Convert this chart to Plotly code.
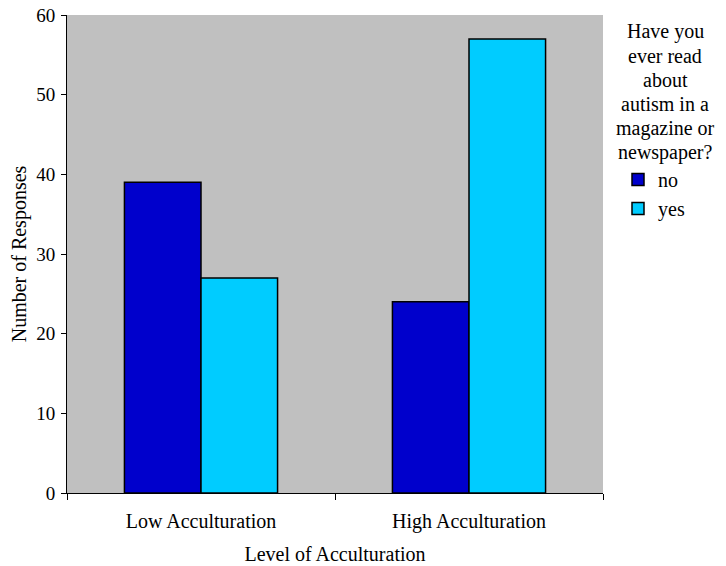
import plotly.graph_objects as go

categories = ["Low Acculturation", "High Acculturation"]
no_values = [39, 24]
yes_values = [27, 57]
series_names = ["no", "yes"]
legend_title_lines = ["Have you", "ever read", "about", "autism in a", "magazine or", "newspaper?"]

FONT = "Liberation Serif, Times New Roman, serif"
# browser body has an 8px margin, so figure coords = screen coords - 8
OFF = 8
PL, PT, PW, PH = 67 - OFF, 15 - OFF, 536, 478


def px(xs):
    return (xs - 67) / PW


def py(ys):
    return (15 + PH - ys) / PH


fig = go.Figure()
fig.add_trace(go.Bar(x=categories, y=no_values, name=series_names[0],
                     marker=dict(color="#0000CC", line=dict(color="black", width=1.5))))
fig.add_trace(go.Bar(x=categories, y=yes_values, name=series_names[1],
                     marker=dict(color="#00CCFF", line=dict(color="black", width=1.5))))

annotations = []
for i, line in enumerate(legend_title_lines):
    yc = 32 + 24 * i
    annotations.append(dict(text=line, xref="paper", yref="paper",
                            x=px(665), y=py(yc),
                            xanchor="center", yanchor="middle", showarrow=False,
                            font=dict(family=FONT, size=20, color="black")))

fig.update_layout(
    width=726, height=566,
    margin=dict(l=PL, r=726 - PL - PW, t=PT, b=566 - PT - PH),
    paper_bgcolor="white",
    plot_bgcolor="#C0C0C0",
    barmode="group",
    bargap=0.4286,
    bargroupgap=0,
    font=dict(family=FONT, size=20, color="black"),
    showlegend=True,
    legend=dict(x=px(618), y=py(160),
                xanchor="left", yanchor="top",
                font=dict(family=FONT, size=20), bgcolor="rgba(0,0,0,0)",
                tracegroupgap=0, traceorder="normal"),
    annotations=annotations,
)
fig.update_xaxes(
    automargin=False,
    showline=True, linecolor="black", linewidth=1,
    ticks="outside", ticklen=6, tickcolor="black", tickson="boundaries",
    ticklabelstandoff=10, ticklabeloverflow="allow",
    showgrid=False, zeroline=False,
    tickfont=dict(family=FONT, size=20),
    title=dict(text="Level of Acculturation", font=dict(family=FONT, size=20), standoff=14),
)
fig.update_yaxes(
    automargin=False,
    range=[0, 60], dtick=10,
    showline=True, linecolor="black", linewidth=1,
    ticks="outside", ticklen=5, tickcolor="black",
    ticklabelstandoff=2, ticklabeloverflow="allow",
    showgrid=False, zeroline=False,
    tickfont=dict(family=FONT, size=19),
    title=dict(text="Number of Responses", font=dict(family=FONT, size=20), standoff=6),
)

fig.write_html("out.html")
